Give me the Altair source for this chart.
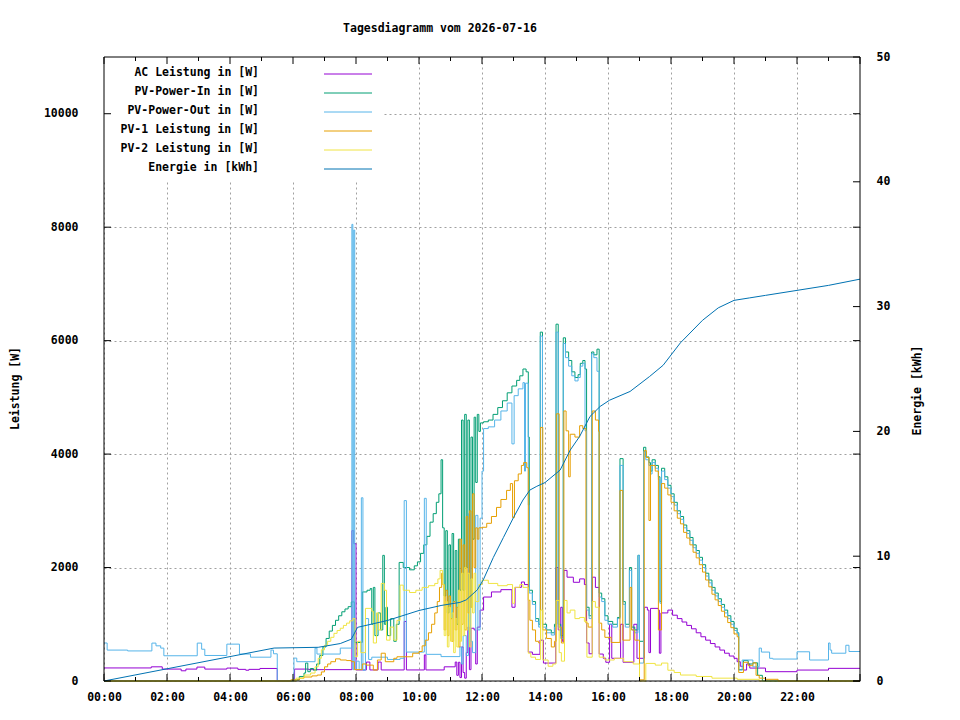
import altair as alt
import pandas as pd

TITLE = "Tagesdiagramm vom 2026-07-16"
FONT = "DejaVu Sans Mono"

labels = ["AC Leistung in [W]", "PV-Power-In in [W]", "PV-Power-Out in [W]",
          "PV-1 Leistung in [W]", "PV-2 Leistung in [W]", "Energie in [kWh]"]
colors = ["#9400d3", "#009e73", "#56b4e9", "#e69f00", "#f0e442", "#0072b2"]

x_major = list(range(0, 25, 2))
x_minor = list(range(1, 24, 2))
x_label_values = list(range(0, 24, 2))
y_values = [0, 2000, 4000, 6000, 8000, 10000]
y2_values = [0, 10, 20, 30, 40, 50]

ac = [(0, 230), (1.5, 250), (1.85, 210), (2.45, 180), (2.6, 210), (2.95, 245), (3.2, 210),
      (3.9, 228), (4.25, 205), (4.5, 190), (4.6, 205), (4.95, 221), (5.5, 0), (6.05, 210),
      (6.5, 200), (7.87, 2650), (7.93, 2420), (8.0, 195), (8.33, 334), (8.44, 195), (8.7, 334),
      (8.8, 195), (9.53, 1050), (9.6, 195), (10.17, 460), (10.22, 195), (10.8, 250), (11.15, 334),
      (11.2, 100), (11.25, 330), (11.3, 60), (11.35, 600), (11.4, 150), (11.45, 50), (11.5, 500),
      (11.55, 950), (11.6, 200), (11.65, 930), (11.75, 900), (11.8, 300), (11.85, 950),
      (11.94, 1250), (12.05, 1480), (12.3, 1570), (12.6, 1610), (12.95, 1300), (13.05, 1650),
      (13.25, 1745), (13.35, 1700), (13.47, 510), (13.6, 470), (13.84, 720), (13.95, 316),
      (14.34, 2000), (14.42, 900), (14.5, 1300), (14.55, 700), (14.6, 1950), (14.7, 1830),
      (14.9, 1740), (15.1, 1800), (15.25, 1700), (15.32, 670), (15.4, 480), (15.5, 1830),
      (15.6, 1650), (15.72, 475), (15.85, 400), (15.93, 330), (16.05, 1000), (16.12, 400),
      (16.4, 1000), (16.48, 330), (16.82, 1000), (16.92, 400), (17.15, 1300), (17.25, 1250),
      (17.3, 500), (17.35, 1280), (17.6, 1250), (17.63, 490), (17.68, 1200), (17.9, 1250),
      (18.05, 1160), (18.2, 1100), (18.35, 1040), (18.5, 980), (18.65, 920), (18.8, 850),
      (18.95, 780), (19.1, 720), (19.25, 660), (19.4, 600), (19.55, 545), (19.7, 490),
      (19.85, 440), (20.0, 400), (20.1, 340), (20.2, 260), (20.3, 193), (20.4, 300),
      (20.5, 228), (21.0, 164), (22.0, 193), (23.0, 223), (24.0, 223)]

pv_in = [(0, 0), (6.03, 20), (6.2, 80), (6.35, 140), (6.4, 316), (6.47, 164), (6.55, 220),
         (6.65, 190), (6.75, 300), (6.85, 450), (6.95, 600), (7.05, 750), (7.15, 880),
         (7.25, 980), (7.35, 1070), (7.45, 1150), (7.55, 1220), (7.65, 1270), (7.75, 1310),
         (7.85, 1394), (7.95, 680), (8.2, 1570), (8.35, 1600), (8.45, 1630), (8.5, 1000),
         (8.55, 1650), (8.6, 800), (8.7, 1200), (8.78, 900), (8.85, 2215), (8.9, 1000),
         (8.95, 1300), (9.0, 800), (9.1, 1100), (9.2, 700), (9.28, 1000), (9.37, 2090),
         (9.5, 2000), (9.7, 1960), (9.85, 2030), (9.95, 2100), (10.05, 2250), (10.15, 2400),
         (10.25, 2550), (10.35, 2800), (10.45, 2950), (10.55, 3150), (10.63, 3300), (10.7, 3900),
         (10.75, 2700), (10.8, 1500), (10.85, 2650), (10.9, 1200), (10.95, 2400), (11.0, 1100),
         (11.05, 2600), (11.1, 1400), (11.15, 2300), (11.2, 1000), (11.25, 2500), (11.3, 1600),
         (11.35, 4600), (11.4, 1600), (11.45, 4700), (11.5, 2000), (11.55, 4600), (11.6, 1300),
         (11.65, 4300), (11.7, 2500), (11.75, 4650), (11.8, 3500), (11.85, 4700), (11.9, 4400),
         (11.95, 4550), (12.05, 4570), (12.2, 4600), (12.35, 4700), (12.5, 4820), (12.65, 4940),
         (12.8, 5080), (12.95, 5200), (13.1, 5300), (13.2, 5380), (13.3, 5500), (13.4, 5450),
         (13.47, 4300), (13.5, 1600), (13.6, 1400), (13.7, 1100), (13.8, 1000), (13.85, 6150),
         (13.92, 1000), (14.05, 900), (14.2, 850), (14.3, 1000), (14.35, 6290), (14.42, 1000),
         (14.5, 800), (14.58, 6050), (14.65, 5800), (14.75, 5650), (14.85, 5450), (14.95, 5350),
         (15.05, 5400), (15.12, 5600), (15.2, 5650), (15.27, 5500), (15.32, 1300), (15.4, 1150),
         (15.48, 5800), (15.55, 5750), (15.65, 5850), (15.72, 1550), (15.8, 1450), (15.9, 1150),
         (16.0, 1050), (16.15, 1000), (16.3, 1120), (16.38, 3920), (16.48, 1400), (16.55, 1000),
         (16.68, 2000), (16.75, 950), (16.85, 900), (16.95, 2215), (17.0, 700), (17.13, 4120),
         (17.2, 3950), (17.3, 3850), (17.35, 3700), (17.4, 3900), (17.5, 3800), (17.6, 3600),
         (17.65, 1400), (17.7, 3750), (17.8, 3600), (17.9, 3450), (18.0, 3300), (18.1, 3150),
         (18.2, 3000), (18.3, 2900), (18.4, 2750), (18.5, 2650), (18.6, 2530), (18.7, 2400),
         (18.8, 2300), (18.9, 2180), (19.0, 2050), (19.1, 1900), (19.2, 1780), (19.3, 1650),
         (19.4, 1550), (19.5, 1450), (19.6, 1350), (19.7, 1250), (19.8, 1150), (19.9, 1050),
         (20.0, 930), (20.1, 850), (20.15, 200), (20.3, 360), (20.45, 300), (20.6, 320),
         (20.75, 100), (20.9, 0), (24.0, 0)]

pv_out = [(0, 670), (0.1, 545), (0.75, 530), (1.52, 668), (1.65, 620), (1.8, 580), (1.9, 445),
          (2.96, 668), (3.1, 560), (3.2, 450), (3.9, 650), (4.3, 475), (4.65, 420), (5.3, 545),
          (5.38, 480), (5.5, 0), (6.03, 404), (6.12, 340), (6.7, 580), (6.76, 475), (7.5, 580),
          (7.87, 8050), (7.9, 200), (7.93, 7950), (7.96, 200), (8.02, 350), (8.1, 200),
          (8.17, 3230), (8.22, 190), (8.3, 1100), (8.4, 380), (8.5, 420), (9.0, 380), (9.4, 400),
          (9.53, 3180), (9.6, 510), (10.17, 3220), (10.23, 470), (10.7, 430), (11.3, 600),
          (11.35, 300), (11.4, 800), (11.5, 450), (11.57, 2950), (11.63, 700), (11.7, 500),
          (11.8, 2920), (11.87, 900), (11.94, 2870), (12.0, 3700), (12.05, 4450), (12.2, 4480),
          (12.4, 4600), (12.6, 4760), (12.8, 4900), (12.95, 4180), (13.02, 5030), (13.15, 5150),
          (13.3, 5260), (13.35, 3700), (13.38, 5250), (13.47, 3100), (13.5, 1550), (13.6, 1350),
          (13.7, 1050), (13.8, 950), (13.85, 6080), (13.92, 950), (14.05, 850), (14.2, 810),
          (14.3, 950), (14.35, 6150), (14.42, 950), (14.5, 750), (14.58, 5950), (14.65, 5700),
          (14.75, 5550), (14.85, 5380), (14.95, 5290), (15.05, 5350), (15.12, 5550), (15.2, 5600),
          (15.27, 4410), (15.32, 1250), (15.4, 1100), (15.48, 5770), (15.55, 5700), (15.65, 5460),
          (15.72, 1480), (15.8, 1400), (15.9, 1070), (16.0, 1000), (16.15, 950), (16.3, 1100),
          (16.38, 3800), (16.48, 1350), (16.55, 950), (16.68, 1950), (16.75, 900), (16.85, 850),
          (16.95, 2215), (17.0, 316), (17.13, 4050), (17.2, 3900), (17.3, 3800), (17.35, 3650),
          (17.4, 3850), (17.5, 3750), (17.6, 3550), (17.65, 1370), (17.7, 3700), (17.8, 3550),
          (17.9, 3400), (18.0, 3250), (18.1, 3100), (18.2, 2950), (18.3, 2850), (18.4, 2700),
          (18.5, 2600), (18.6, 2480), (18.7, 2350), (18.8, 2250), (18.9, 2130), (19.0, 2000),
          (19.1, 1850), (19.2, 1730), (19.3, 1600), (19.4, 1500), (19.5, 1400), (19.6, 1300),
          (19.7, 1200), (19.8, 1100), (19.9, 1000), (20.0, 890), (20.1, 840), (20.15, 193),
          (20.26, 370), (20.6, 250), (20.8, 580), (20.87, 510), (21.13, 400), (21.23, 387),
          (22.0, 515), (22.4, 370), (23.0, 670), (23.05, 545), (23.1, 490), (23.55, 630),
          (23.65, 520), (24.0, 520)]

pv1 = [(0, 0), (5.93, 20), (6.2, 50), (6.35, 70), (6.6, 90), (6.77, 105), (6.9, 160), (7.0, 250),
       (7.1, 300), (7.2, 340), (7.35, 390), (7.5, 370), (7.7, 360), (7.85, 340), (7.95, 200),
       (8.2, 300), (8.33, 280), (8.55, 193), (8.68, 370), (8.8, 490), (8.93, 340), (9.2, 400),
       (9.3, 427), (9.8, 490), (10.0, 520), (10.1, 620), (10.2, 720), (10.3, 850), (10.4, 1000),
       (10.5, 1200), (10.58, 1400), (10.65, 1650), (10.72, 1900), (10.75, 1700), (10.8, 900),
       (10.85, 1600), (10.9, 800), (10.95, 1500), (11.0, 1100), (11.05, 700), (11.1, 1400),
       (11.15, 900), (11.2, 1300), (11.25, 600), (11.3, 2500), (11.35, 1000), (11.4, 2400),
       (11.45, 900), (11.5, 2900), (11.55, 1200), (11.6, 3000), (11.65, 1300), (11.7, 3300),
       (11.75, 2000), (11.8, 2700), (11.85, 2500), (11.9, 2700), (12.0, 2710), (12.15, 2780),
       (12.3, 2900), (12.46, 3060), (12.6, 3200), (12.78, 3360), (12.9, 3480), (12.97, 2880),
       (13.03, 3530), (13.15, 3650), (13.25, 3800), (13.32, 3850), (13.42, 3760), (13.47, 1424),
       (13.52, 1070), (13.6, 900), (13.7, 700), (13.8, 670), (13.86, 4470), (13.93, 900),
       (14.05, 750), (14.2, 600), (14.3, 700), (14.36, 4710), (14.45, 950), (14.52, 670),
       (14.6, 4760), (14.67, 4410), (14.75, 3600), (14.8, 4350), (14.95, 4300), (15.1, 4500),
       (15.2, 4450), (15.3, 1020), (15.37, 950), (15.5, 4760), (15.6, 4600), (15.7, 4400),
       (15.72, 1020), (15.8, 900), (15.9, 770), (16.1, 680), (16.38, 3360), (16.47, 720),
       (16.7, 1650), (16.75, 900), (16.85, 720), (17.0, 20), (17.15, 4060), (17.22, 3940),
       (17.3, 2830), (17.35, 3800), (17.5, 3700), (17.6, 900), (17.7, 3480), (17.8, 3400),
       (17.9, 3280), (18.0, 3150), (18.1, 3000), (18.2, 2870), (18.3, 2770), (18.4, 2620),
       (18.5, 2520), (18.6, 2400), (18.7, 2270), (18.8, 2170), (18.9, 2050), (19.0, 1920),
       (19.1, 1780), (19.2, 1660), (19.3, 1530), (19.4, 1430), (19.5, 1330), (19.6, 1230),
       (19.7, 1130), (19.8, 1030), (19.9, 940), (20.0, 830), (20.1, 780), (20.15, 150),
       (20.3, 330), (20.45, 270), (20.6, 320), (20.7, 100), (20.8, 50), (21.0, 30), (21.4, 0),
       (24.0, 0)]

pv2 = [(0, 0), (6.1, 50), (6.35, 105), (6.56, 140), (6.7, 250), (6.8, 400), (6.9, 550),
       (7.0, 630), (7.1, 700), (7.2, 770), (7.3, 840), (7.4, 890), (7.5, 930), (7.6, 980),
       (7.7, 1020), (7.8, 1060), (7.9, 1100), (7.97, 430), (8.05, 700), (8.15, 500), (8.3, 1280),
       (8.5, 1230), (8.55, 670), (8.65, 1200), (8.72, 900), (8.8, 1720), (8.9, 1600), (8.97, 720),
       (9.08, 950), (9.2, 720), (9.3, 1070), (9.4, 1690), (9.5, 1600), (9.7, 1560), (9.9, 1600),
       (10.1, 1650), (10.3, 1680), (10.5, 1720), (10.6, 1800), (10.67, 1950), (10.75, 1700),
       (10.8, 800), (10.85, 1400), (10.9, 600), (10.95, 1300), (11.0, 700), (11.05, 1200),
       (11.1, 500), (11.15, 1100), (11.2, 600), (11.25, 1600), (11.3, 700), (11.35, 1900),
       (11.4, 800), (11.45, 2000), (11.5, 900), (11.55, 1900), (11.6, 600), (11.65, 1800),
       (11.7, 1200), (11.75, 1900), (11.8, 1400), (11.9, 1700), (12.0, 1776), (12.2, 1720),
       (12.5, 1680), (12.8, 1700), (12.97, 1370), (13.03, 1650), (13.2, 1700), (13.3, 1650),
       (13.47, 490), (13.55, 420), (13.7, 380), (13.86, 1250), (13.93, 370), (14.1, 260),
       (14.25, 300), (14.35, 1420), (14.45, 500), (14.52, 350), (14.62, 1420), (14.7, 1200),
       (14.8, 1250), (14.95, 1100), (15.1, 1120), (15.25, 1050), (15.33, 420), (15.5, 1400),
       (15.6, 1300), (15.72, 420), (15.9, 370), (16.2, 400), (16.5, 340), (16.8, 300),
       (17.0, 0), (17.2, 310), (17.5, 280), (17.7, 316), (17.9, 190), (18.1, 150), (18.3, 105),
       (18.8, 80), (19.3, 50), (20.1, 30), (20.8, 0), (24.0, 0)]

energy = [(0, 0), (5.4, 2.64), (6.8, 2.7), (7.5, 3.0), (7.85, 3.35), (8.05, 4.3), (9.0, 4.85),
          (10.0, 5.65), (10.7, 6.05), (11.3, 6.3), (11.5, 6.5), (11.85, 7.3), (12.04, 8.1),
          (12.36, 9.9), (12.68, 11.5), (13.0, 13.1), (13.3, 14.5), (13.52, 15.3), (13.74, 15.6),
          (14.0, 15.9), (14.48, 16.9), (14.8, 18.5), (15.1, 19.6), (15.43, 21.2), (15.75, 22.0),
          (16.05, 22.5), (16.7, 23.2), (17.32, 24.4), (17.75, 25.3), (18.3, 27.1), (19.0, 28.9),
          (19.5, 29.9), (20.0, 30.5), (20.5, 30.7), (21.0, 30.9), (22.0, 31.3), (23.0, 31.7),
          (24.0, 32.2)]

W, H = 756, 624
xs = alt.Scale(domain=[0, 24], nice=False, zero=False)
ys = alt.Scale(domain=[0, 11000], nice=False)
es = alt.Scale(domain=[0, 50], nice=False)
GRID = dict(grid=True, gridDash=[2, 3], gridColor="#a0a0a0", gridWidth=1)
LBL = dict(labelFont=FONT, labelFontSize=11.5, labelFontWeight="bold", labelColor="black",
           labelFlush=False)
TTL = dict(titleFont=FONT, titleFontSize=11.5, titleFontWeight="bold", titleColor="black")

x_axis = alt.Axis(values=x_label_values, title=None, domain=False, ticks=False, labelPadding=10,
                  labelExpr="(datum.value < 10 ? '0' : '') + datum.value + ':00'", **GRID, **LBL)
y_axis = alt.Axis(values=y_values, format="d", domain=False, ticks=False, labelPadding=26,
                  title="Leistung [W]", titleX=-89, titleY=331, titleAngle=270,
                  titleAlign="center", titleBaseline="middle", **GRID, **LBL, **TTL)
e_axis = alt.Axis(orient="right", values=y2_values, format="d", domain=False, ticks=False,
                  grid=False, labelPadding=16, title="Energie [kWh]", titleX=57, titleY=333,
                  titleAngle=270, titleAlign="center", titleBaseline="middle", **LBL, **TTL)

X = alt.X("t:Q", scale=xs, axis=x_axis)


def power_layer(points, color, first=False):
    df = pd.DataFrame(points, columns=["t", "v"])
    return alt.Chart(df).mark_line(interpolate="step-after", color=color, strokeWidth=1).encode(
        x=X,
        y=alt.Y("v:Q", scale=ys, axis=y_axis if first else None),
    )


layers = [
    power_layer(ac, colors[0], first=True),
    power_layer(pv_in, colors[1]),
    power_layer(pv_out, colors[2]),
    power_layer(pv1, colors[3]),
    power_layer(pv2, colors[4]),
]

edf = pd.DataFrame(energy, columns=["t", "e"])
layers.append(alt.Chart(edf).mark_line(color=colors[5], strokeWidth=1).encode(
    x=X,
    y=alt.Y("e:Q", scale=es, axis=e_axis),
))

one = pd.DataFrame({"a": [0]})
# key box
layers.append(alt.Chart(one).mark_rect(fill="white").encode(
    x=alt.value(0), x2=alt.value(279), y=alt.value(0), y2=alt.value(123)))

ldf = pd.DataFrame({"label": labels, "color": colors, "row": list(range(len(labels)))})
rows = alt.Scale(domain=[0, len(labels) - 1], range=[17, 112])
layers.append(alt.Chart(ldf).mark_text(align="right", baseline="middle", font=FONT, fontSize=11.5,
                                       fontWeight="bold", color="black", dy=-1).encode(
    x=alt.value(155), y=alt.Y("row:Q", scale=rows, axis=None), text="label:N"))
layers.append(alt.Chart(ldf).mark_rule(strokeWidth=1).encode(
    x=alt.value(220), x2=alt.value(268), y=alt.Y("row:Q", scale=rows, axis=None),
    color=alt.Color("color:N", scale=None)))

# frame
layers.append(alt.Chart(one).mark_rect(filled=False, stroke="black", strokeWidth=1).encode(
    x=alt.value(0), x2=alt.value(W), y=alt.value(0), y2=alt.value(H)))

# inward ticks
xmaj = pd.DataFrame({"t": x_major})
xmin = pd.DataFrame({"t": x_minor})
for df, ln in ((xmaj, 7), (xmin, 4)):
    for y0, y1 in ((H, H - ln), (0, ln)):
        layers.append(alt.Chart(df).mark_rule(color="black", strokeWidth=1).encode(
            x=X, y=alt.value(y0), y2=alt.value(y1)))
ydf = pd.DataFrame({"v": y_values})
for x0, x1 in ((0, 7), (W, W - 7)):
    layers.append(alt.Chart(ydf).mark_rule(color="black", strokeWidth=1).encode(
        y=alt.Y("v:Q", scale=ys, axis=None), x=alt.value(x0), x2=alt.value(x1)))
e2df = pd.DataFrame({"e": y2_values})
layers.append(alt.Chart(e2df).mark_rule(color="black", strokeWidth=1).encode(
    y=alt.Y("e:Q", scale=es, axis=None), x=alt.value(W), x2=alt.value(W - 7)))

chart = alt.layer(*layers).resolve_scale(y="independent").properties(
    width=W, height=H,
    title=alt.TitleParams(TITLE, font=FONT, fontSize=11.5, fontWeight="bold", color="black",
                          anchor="middle", dx=-42, offset=17),
    padding={"left": 96, "top": 49, "right": 92, "bottom": 31},
    autosize=alt.AutoSizeParams(type="none"),
    background="white",
).configure_view(stroke=None)

chart.save("out.html", embed_options={"renderer": "svg", "actions": False})
